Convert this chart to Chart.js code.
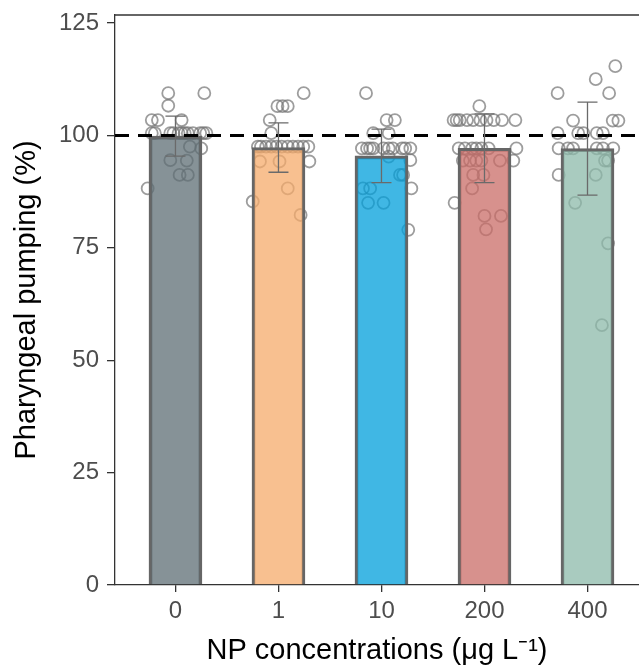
<!DOCTYPE html>
<html>
<head>
<meta charset="utf-8">
<script src="https://cdn.jsdelivr.net/npm/chart.js@4.4.1/dist/chart.umd.min.js"></script>
<style>
  html, body { margin: 0; padding: 0; background: #fff; overflow: hidden; }
  #wrap { width: 639px; height: 667px; position: relative; }
</style>
</head>
<body>
<div id="wrap"><canvas id="chart"></canvas></div>
<script>
// ---- data ----
const categories = ['0', '1', '10', '200', '400'];
const means = [99.85, 97.3, 95.45, 97.15, 97.05];
const sds   = [4.45, 5.5, 5.95, 7.65, 10.35];
const yTicks = [0, 25, 50, 75, 100, 125];
const refLine = 100;

// individual worms (value, horizontal jitter in category units)
const pump0 = [109.4, 109.4, 106.6, 103.4, 103.4, 103.4,
  100.5, 100.5, 100.5, 100.5, 100.5, 100.5, 100.5, 100.5, 100.5, 100.5, 100.5, 100.5,
  97.5, 97.1, 94.5, 94.4, 91.2, 91.2, 88.2];
const jit0 = [-0.07, 0.28, -0.07, -0.23, -0.17, 0.06,
  -0.23, -0.2, -0.05, -0.02, 0.03, 0.06, 0.09, 0.12, 0.17, 0.24, 0.27, 0.3,
  0.14, 0.25, -0.05, 0.11, 0.04, 0.12, -0.27];

const pump1 = [109.4, 106.5, 106.5, 106.5, 103.4, 100.5,
  97.5, 97.5, 97.5, 97.5, 97.5, 97.5, 97.5, 97.5, 97.5, 97.5, 97.5,
  94.2, 94.2, 94.2, 88.2, 85.3, 82.3];
const jit1 = [0.245, -0.01, 0.04, 0.09, -0.085, -0.07,
  -0.2, -0.17, -0.12, -0.07, -0.02, 0.03, 0.09, 0.14, 0.19, 0.24, 0.29,
  -0.18, 0.01, 0.3, 0.09, -0.25, 0.215];

const pump10 = [109.4, 103.4, 103.4, 100.5, 100.5,
  97.1, 97.1, 97.1, 97.1, 97.1, 97.1, 97.1, 97.1, 97.1, 97.1,
  95.3, 94.5, 91.2, 91.2, 88.2, 88.2, 88.2, 85.0, 85.0, 79.0];
const jit10 = [-0.15, 0.05, 0.13, -0.08, 0.07,
  -0.19, -0.14, -0.11, -0.08, 0.02, 0.07, 0.11, 0.2, 0.23, 0.28,
  0.07, 0.28, 0.18, 0.21, -0.18, -0.11, 0.29, -0.13, 0.02, 0.26];

const pump200 = [106.5,
  103.4, 103.4, 103.4, 103.4, 103.4, 103.4, 103.4, 103.4, 103.4, 103.4,
  97.1, 97.1, 97.1, 97.1, 97.1, 97.1, 97.1,
  94.4, 94.4, 94.4, 94.4, 94.4, 94.4,
  91.2, 91.2, 88.2, 85.0, 82.1, 82.1, 79.1];
const jit200 = [-0.05,
  -0.3, -0.27, -0.24, -0.17, -0.11, -0.04, 0.02, 0.09, 0.17, 0.3,
  -0.25, -0.19, -0.12, -0.08, -0.03, 0.04, 0.31,
  -0.21, -0.14, -0.08, -0.03, 0.15, 0.28,
  -0.11, -0.01, -0.12, -0.29, 0.0, 0.16, 0.015];

const pump400 = [115.4, 112.5, 109.4, 109.4, 103.3, 103.3, 103.3,
  100.5, 100.5, 100.5, 100.5, 100.5,
  97.1, 97.1, 97.1, 97.1, 97.1, 97.1,
  94.4, 94.4, 91.2, 91.2, 85.0, 76.0, 57.8];
const jit400 = [0.27, 0.08, 0.21, -0.29, -0.14, 0.245, 0.3,
  -0.29, -0.09, -0.04, 0.09, 0.15,
  -0.28, -0.19, -0.14, 0.09, 0.15, 0.25,
  0.17, 0.2, -0.28, 0.08, -0.12, 0.2, 0.14];

const groupPumps = [pump0, pump1, pump10, pump200, pump400];
const groupJits  = [jit0, jit1, jit10, jit200, jit400];

// ---- styling ----
const FONT = "'Liberation Sans', Arial, Helvetica, sans-serif";
const barFill = [
  'rgba(93, 109, 116, 0.75)',
  'rgba(245, 171, 107, 0.75)',
  'rgba(0, 159, 219, 0.75)',
  'rgba(201, 108, 103, 0.75)',
  'rgba(140, 185, 169, 0.75)'
];
const X_MIN = -0.587, X_MAX = 4.5;

const points = [];
groupPumps.forEach((vals, g) => {
  vals.forEach((v, k) => points.push({ x: g + groupJits[g][k], y: v }));
});

// error bars (mean ± SD) on top of bars
const errorBars = {
  id: 'errorBars',
  afterDatasetsDraw(chart) {
    const { ctx, scales: { x, y } } = chart;
    ctx.save();
    ctx.strokeStyle = '#6a6a6a';
    ctx.lineWidth = 1.3;
    means.forEach((m, i) => {
      const px = x.getPixelForValue(i);
      const top = y.getPixelForValue(m + sds[i]);
      const bot = y.getPixelForValue(m - sds[i]);
      ctx.beginPath();
      ctx.moveTo(px, top); ctx.lineTo(px, bot);
      ctx.moveTo(px - 10, top); ctx.lineTo(px + 10, top);
      ctx.moveTo(px - 10, bot); ctx.lineTo(px + 10, bot);
      ctx.stroke();
    });
    ctx.restore();
  }
};

// top frame line of the panel
const topFrame = {
  id: 'topFrame',
  afterDraw(chart) {
    const { ctx, chartArea: a } = chart;
    ctx.save();
    ctx.strokeStyle = '#333';
    ctx.lineWidth = 1.3;
    ctx.beginPath();
    ctx.moveTo(a.left, a.top);
    ctx.lineTo(a.right, a.top);
    ctx.stroke();
    ctx.restore();
  }
};

new Chart(document.getElementById('chart'), {
  type: 'bar',
  data: {
    datasets: [
      {
        type: 'line',
        data: [{ x: X_MIN, y: refLine }, { x: X_MAX, y: refLine }],
        borderColor: '#000',
        borderWidth: 3,
        borderDash: [14, 9],
        pointRadius: 0,
        order: 1
      },
      {
        type: 'bar',
        data: means.map((m, i) => ({ x: i, y: m })),
        backgroundColor: barFill,
        borderColor: '#666',
        borderWidth: 3,
        borderSkipped: 'start',
        barThickness: 53,
        order: 2
      },
      {
        type: 'scatter',
        data: points,
        pointStyle: 'circle',
        pointRadius: 6,
        backgroundColor: 'rgba(0,0,0,0)',
        borderColor: 'rgba(115, 115, 115, 0.7)',
        borderWidth: 1.8,
        order: 3
      }
    ]
  },
  options: {
    responsive: true,
    maintainAspectRatio: false,
    animation: false,
    layout: { autoPadding: false, padding: { left: 0, right: 0, top: 15, bottom: 0 } },
    plugins: {
      legend: { display: false },
      tooltip: { enabled: false }
    },
    scales: {
      x: {
        type: 'linear',
        offset: false,
        min: X_MIN,
        max: X_MAX,
        afterBuildTicks: (s) => { s.ticks = categories.map((c, i) => ({ value: i })); },
        afterFit: (s) => { s.height = 82; s.paddingLeft = 0; s.paddingRight = 0; },
        ticks: {
          autoSkip: false,
          maxRotation: 0,
          padding: 5,
          color: '#4d4d4d',
          font: { family: FONT, size: 24 },
          callback: (v) => categories[v]
        },
        grid: { display: true, offset: false, drawOnChartArea: false, drawTicks: true, tickLength: 7, color: '#333', lineWidth: 1.3 },
        border: { display: true, color: '#333', width: 1.3 },
        title: {
          display: true,
          text: 'NP concentrations (μg L⁻¹)',
          color: '#000',
          font: { family: FONT, size: 29, lineHeight: 1.1 },
          padding: { top: 0, bottom: 0 }
        }
      },
      y: {
        min: 0,
        max: 126.78,
        afterBuildTicks: (s) => { s.ticks = yTicks.map(v => ({ value: v })); },
        afterFit: (s) => { s.width = 115; s.paddingTop = 0; s.paddingBottom = 0; },
        ticks: {
          padding: 8,
          color: '#4d4d4d',
          font: { family: FONT, size: 24 }
        },
        grid: { display: true, drawOnChartArea: false, drawTicks: true, tickLength: 8, color: '#333', lineWidth: 1.3 },
        border: { display: true, color: '#333', width: 1.3 },
        title: {
          display: true,
          text: 'Pharyngeal pumping (%)',
          color: '#000',
          font: { family: FONT, size: 29, lineHeight: 1.1 },
          padding: { top: 11, bottom: 0 }
        }
      }
    }
  },
  plugins: [errorBars, topFrame]
});
</script>
</body>
</html>
